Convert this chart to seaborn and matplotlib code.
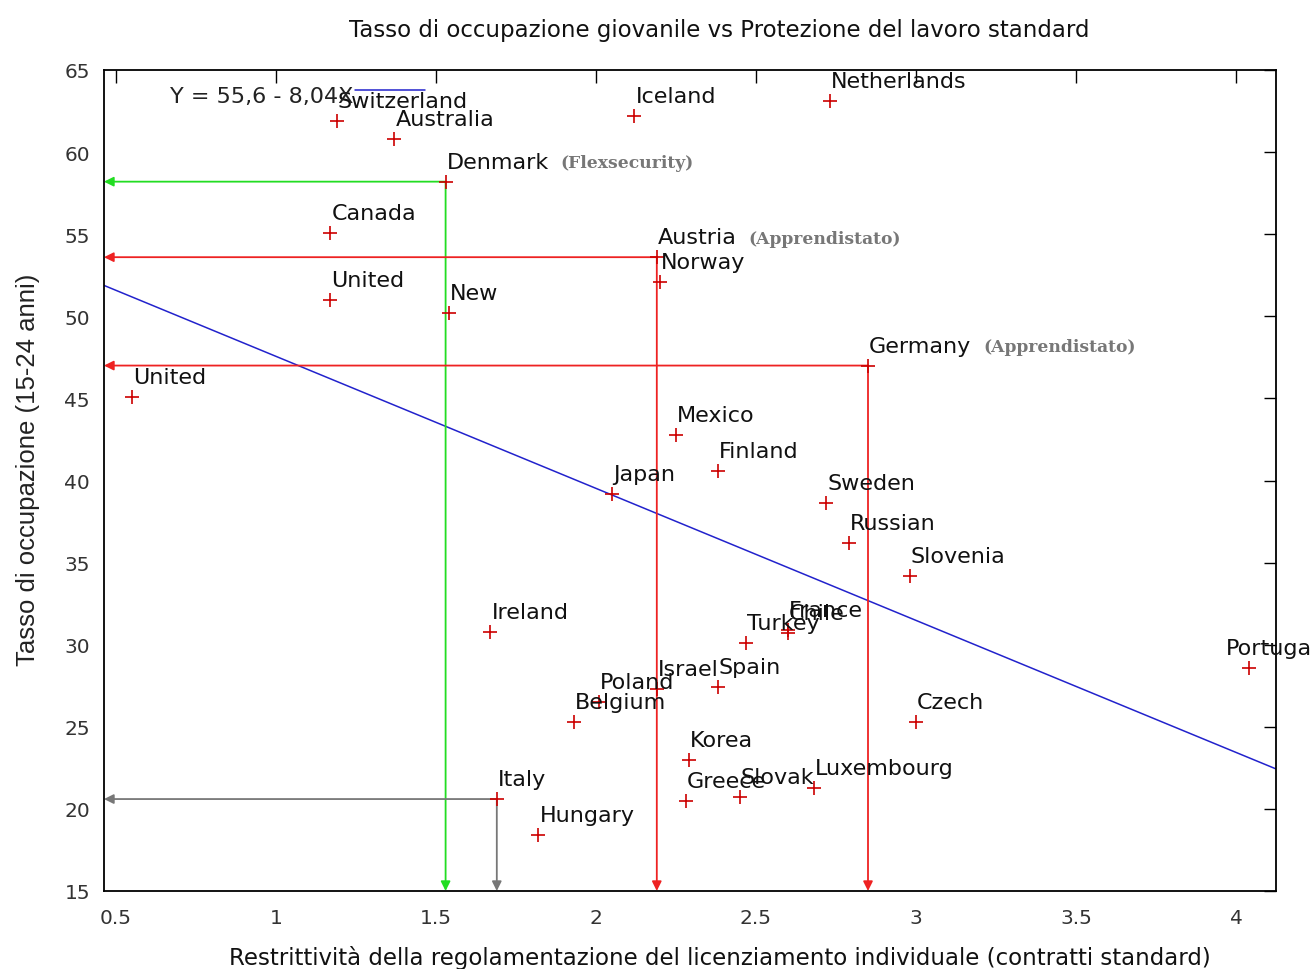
import matplotlib
matplotlib.use("Agg")
import matplotlib.pyplot as plt
import seaborn as sns
import pandas as pd
from matplotlib.lines import Line2D

# ---------------- data ----------------
countries = ["Switzerland", "Australia", "Iceland", "Netherlands", "Denmark", "Canada",
             "Austria", "Norway", "United", "New", "Germany", "United",
             "Mexico", "Finland", "Japan", "Sweden", "Russian", "Slovenia",
             "Ireland", "Turkey", "France", "Chile", "Portugal", "Israel", "Spain",
             "Poland", "Belgium", "Czech", "Korea", "Greece", "Slovak", "Luxembourg",
             "Italy", "Hungary"]
restrictiveness = [1.19, 1.37, 2.12, 2.73, 1.53, 1.17,
                   2.19, 2.20, 1.17, 1.54, 2.85, 0.55,
                   2.25, 2.38, 2.05, 2.72, 2.79, 2.98,
                   1.67, 2.47, 2.60, 2.60, 4.04, 2.19, 2.38,
                   2.01, 1.93, 3.00, 2.29, 2.28, 2.45, 2.68,
                   1.69, 1.82]
employment = [61.9, 60.8, 62.2, 63.1, 58.2, 55.1,
              53.6, 52.1, 51.0, 50.2, 47.0, 45.1,
              42.8, 40.6, 39.2, 38.6, 36.2, 34.2,
              30.8, 30.1, 30.9, 30.7, 28.6, 27.3, 27.4,
              26.5, 25.3, 25.3, 23.0, 20.5, 20.7, 21.3,
              20.6, 18.4]

intercept = 55.6
slope = -8.04
fit_label = "Y = 55,6 - 8,04X"

# highlighted countries: (name, color, note)
highlights = [("Denmark", "#22dd22", "(Flexsecurity)"),
              ("Austria", "#ee2222", "(Apprendistato)"),
              ("Germany", "#ee2222", "(Apprendistato)"),
              ("Italy", "#777777", None)]

title = "Tasso di occupazione giovanile vs Protezione del lavoro standard"
xlabel = "Restrittività della regolamentazione del licenziamento individuale (contratti standard)"
ylabel = "Tasso di occupazione (15-24 anni)"
xticks = [0.5, 1, 1.5, 2, 2.5, 3, 3.5, 4]
yticks = [15, 20, 25, 30, 35, 40, 45, 50, 55, 60, 65]

df = pd.DataFrame({"country": countries, "x": restrictiveness, "y": employment})

# ---------------- figure ----------------
sns.set_theme(style="white")
plt.rcParams["font.family"] = ["DejaVu Sans"]

fig = plt.figure(figsize=(13.13, 9.70), dpi=100)
ax = fig.add_axes([104 / 1313, 1 - 892 / 970, 1172 / 1313, 821 / 970])

xmin, xmax = 0.4625, 4.125
ymin, ymax = 15, 65
ax.set_xlim(xmin, xmax)
ax.set_ylim(ymin, ymax)

# regression line
ax.axline((0, intercept), slope=slope, color="#2222cc", lw=1.1, zorder=2)

# guide arrows
for name, col, note in highlights:
    row = df[df.country == name].iloc[0]
    ap = dict(arrowstyle="-|>", color=col, lw=1.3, mutation_scale=14,
              shrinkA=0, shrinkB=0)
    ax.annotate("", xy=(xmin, row.y), xytext=(row.x, row.y), arrowprops=ap, zorder=3)
    ax.annotate("", xy=(row.x, ymin), xytext=(row.x, row.y), arrowprops=ap, zorder=3)

# points
sns.scatterplot(data=df, x="x", y="y", marker="+", s=110, color="#cc0000",
                linewidth=1.2, ax=ax, zorder=4, legend=False)

# labels
label_shift = {"Portugal": -23}
label_artists = {}
for c, xv, yv in zip(countries, restrictiveness, employment):
    dx = label_shift.get(c, 1)
    t = ax.annotate(c, xy=(xv, yv), xytext=(dx, 20), textcoords="offset pixels",
                    ha="left", va="center", fontsize=16, color="#111111",
                    annotation_clip=False, zorder=5)
    label_artists[c] = t

for name, col, note in highlights:
    if note:
        ax.annotate(note, xy=(1, 0.5), xycoords=label_artists[name],
                    xytext=(12, -1), textcoords="offset pixels", ha="left", va="center",
                    fontsize=12.3, fontweight="bold", family="DejaVu Serif",
                    color="#777777", zorder=5)

# fit "key"
ax.text(0.2125, 0.968, fit_label, transform=ax.transAxes, ha="right", va="center",
        fontsize=16, color="#222222", zorder=5)
ax.add_line(Line2D([0.214, 0.274], [0.9756, 0.9756], transform=ax.transAxes,
                   color="#2222cc", lw=1.1))

# axes styling
ax.set_xticks(xticks)
ax.set_xticklabels([f"{v:g}" for v in xticks])
ax.set_yticks(yticks)
ax.tick_params(axis="both", direction="in", length=9, width=1.0, color="black",
               top=True, right=True, labelsize=14.5, labelcolor="#333333")
ax.tick_params(axis="x", pad=12)
ax.tick_params(axis="y", pad=10)
for sp in ax.spines.values():
    sp.set_color("black")
    sp.set_linewidth(1.3)
ax.set_xlabel("")
ax.set_ylabel("")

fig.text(719 / 1313, 1 - 30 / 970, title, ha="center", va="center", fontsize=16.5,
         color="#111111")
fig.text(720 / 1313, 1 - 958 / 970, xlabel, ha="center", va="center", fontsize=16.5,
         color="#111111")
fig.text(28 / 1313, 1 - 470 / 970, ylabel, ha="center", va="center", rotation=90,
         fontsize=18.5, family="Liberation Sans", color="#222222")

fig.savefig("out.png", dpi=100)
